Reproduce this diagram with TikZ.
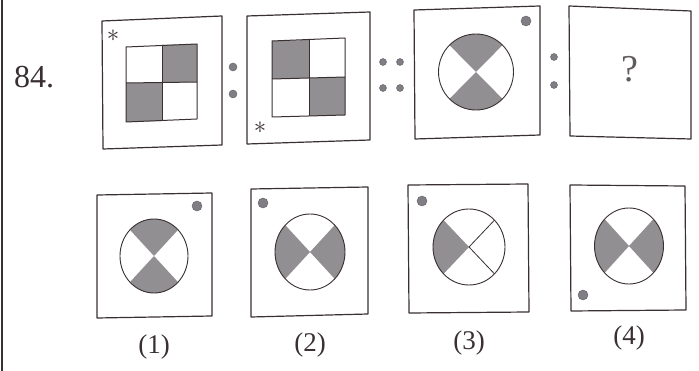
\documentclass[tikz,border=0pt]{standalone}
\usepackage{fontspec}
\setmainfont{Liberation Serif}
\definecolor{ink}{RGB}{58,48,50}
\definecolor{greyfill}{RGB}{145,143,145}
\definecolor{dotfill}{RGB}{128,126,132}
\newcommand\topS[3]{\fill[greyfill] (#1) -- ++(-2*#2,-2*#3) -- ++(4*#2,0) -- cycle;}
\newcommand\botS[3]{\fill[greyfill] (#1) -- ++(-2*#2,2*#3) -- ++(4*#2,0) -- cycle;}
\newcommand\lefS[3]{\fill[greyfill] (#1) -- ++(-2*#2,-2*#3) -- ++(0,4*#3) -- cycle;}
\newcommand\rigS[3]{\fill[greyfill] (#1) -- ++(2*#2,-2*#3) -- ++(0,4*#3) -- cycle;}
\begin{document}
\begin{tikzpicture}[x=1pt,y=-1pt,line join=round,
  frame/.style={draw=ink,line width=1.2pt},
  sq/.style={draw=ink,line width=1pt},
  ring/.style={draw=ink,line width=0.9pt},
  dotc/.style={fill=dotfill,draw=dotfill!75!black,line width=0.4pt},
  lbl/.style={font=\fontsize{27}{27}\selectfont,text=ink,inner sep=0pt},
  star/.style={font=\fontsize{28}{28}\selectfont,text=ink,inner sep=0pt}]
\useasboundingbox (0,0) rectangle (699,371);
\fill[white] (0,0) rectangle (699,371);
\draw[ink,line width=1.5pt] (2,0) -- (2,371);
\node[lbl,font=\fontsize{32}{32}\selectfont] (num) at (34,77) {84.};

% ---------- question figure 1 ----------
\draw[frame] (102,21) -- (222,16) -- (222,145) -- (103,149) -- cycle;
\fill[greyfill] (162,45) -- (197,44) -- (197,82) -- (162,83) -- cycle;
\fill[greyfill] (126,83) -- (162,83) -- (162,121) -- (126,122) -- cycle;
\draw[sq] (126,47) -- (197,44) -- (197,119) -- (126,122) -- cycle;
\draw[sq] (126,83) -- (197,82);
\draw[sq] (162,45.5) -- (162,121);
\node[star] (s1) at (113,36) {$\ast$};

\fill[dotc] (233,67) circle (4);
\fill[dotc] (233,94) circle (4);

% ---------- question figure 2 ----------
\draw[frame] (247,16) -- (370,12) -- (370,140) -- (247,144) -- cycle;
\fill[greyfill] (272,41) -- (309,40) -- (309,78) -- (272,79) -- cycle;
\fill[greyfill] (309,78) -- (345,77) -- (345,115) -- (309,116) -- cycle;
\draw[sq] (272,41) -- (345,38) -- (345,115) -- (272,117) -- cycle;
\draw[sq] (272,79) -- (345,77);
\draw[sq] (309,39.5) -- (309,116);
\node[star] (s2) at (260,128) {$\ast$};

\foreach \px in {383,400} \foreach \py in {62,88} \fill[dotc] (\px,\py) circle (3.5);

% ---------- question figure 3 ----------
\draw[frame] (414,10) -- (540,6) -- (540,135) -- (415,139) -- cycle;
\coordinate (c3) at (476,72);
\begin{scope}
\clip (c3) ellipse [x radius=37.5pt,y radius=38pt];
\topS{c3}{37.5}{38}
\botS{c3}{37.5}{38}
\end{scope}
\draw[ring] (c3) ellipse [x radius=37.5pt,y radius=38pt];
\fill[dotc] (526,21) circle (5);

\fill[dotc] (554,57) circle (3.5);
\fill[dotc] (554,85) circle (3.5);

% ---------- question figure 4 ----------
\draw[frame] (569,6) -- (691,11) -- (691,139) -- (570,136) -- cycle;
\node[lbl,font=\fontsize{38}{38}\selectfont,text=ink!80] (q) at (630,69) {?};

% ---------- option 1 ----------
\draw[frame] (97,195) -- (212,193) -- (212,316) -- (97,318) -- cycle;
\coordinate (o1) at (154,256);
\begin{scope}
\clip (o1) ellipse [x radius=34pt,y radius=37pt];
\topS{o1}{34}{37}
\botS{o1}{34}{37}
\end{scope}
\draw[ring] (o1) ellipse [x radius=34pt,y radius=37pt];
\fill[dotc] (197,206) circle (5);
\node[lbl] (l1) at (154,347) {(1)};

% ---------- option 2 ----------
\draw[frame] (251,189) -- (368,187) -- (368,314) -- (251,317) -- cycle;
\coordinate (o2) at (310,252);
\begin{scope}
\clip (o2) ellipse [x radius=35pt,y radius=38pt];
\lefS{o2}{35}{38}
\rigS{o2}{35}{38}
\end{scope}
\draw[ring] (o2) ellipse [x radius=35pt,y radius=38pt];
\fill[dotc] (263,203) circle (5);
\node[lbl] (l2) at (310,345) {(2)};

% ---------- option 3 ----------
\draw[frame] (408,185) -- (528,184) -- (529,312) -- (409,313) -- cycle;
\coordinate (o3) at (469,247);
\begin{scope}
\clip (o3) ellipse [x radius=36pt,y radius=38pt];
\lefS{o3}{36}{38}
\end{scope}
\draw[ink,line width=0.8pt] (o3) -- ++(25.5,-26.9);
\draw[ink,line width=0.8pt] (o3) -- ++(25.5,26.9);
\draw[ring] (o3) ellipse [x radius=36pt,y radius=38pt];
\fill[dotc] (422,201) circle (5);
\node[lbl] (l3) at (469,343) {(3)};

% ---------- option 4 ----------
\draw[frame] (570,185) -- (685,186) -- (686,310) -- (571,311) -- cycle;
\coordinate (o4) at (629,246);
\begin{scope}
\clip (o4) ellipse [x radius=34.5pt,y radius=38pt];
\lefS{o4}{34.5}{38}
\rigS{o4}{34.5}{38}
\end{scope}
\draw[ring] (o4) ellipse [x radius=34.5pt,y radius=38pt];
\fill[dotc] (583,295) circle (5);
\node[lbl] (l4) at (629,338) {(4)};
\end{tikzpicture}
\end{document}
